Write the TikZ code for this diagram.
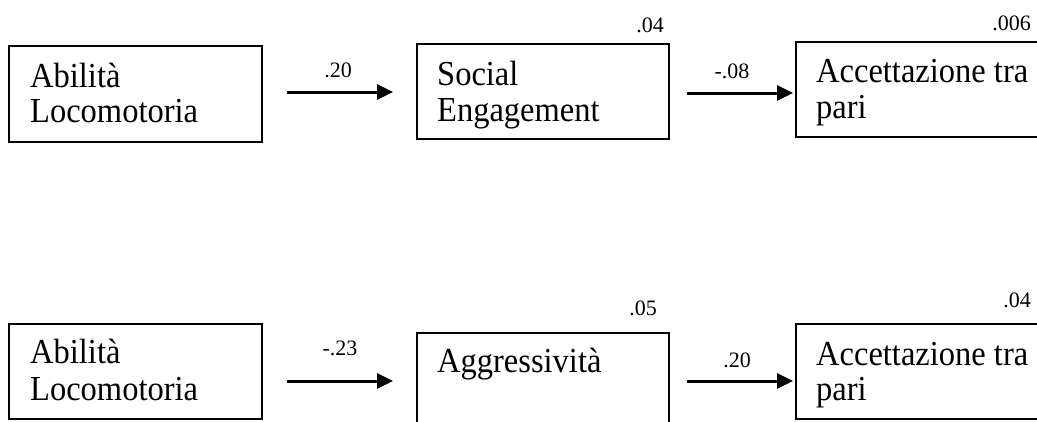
\documentclass[tikz,border=0pt]{standalone}
\usepackage{fontspec}
\setmainfont{Liberation Serif}
\usetikzlibrary{arrows.meta}
\newcommand{\tallt}[1]{\scalebox{1}[1.08]{#1}}
\tikzset{
  box/.style={draw=black, line width=2pt, rectangle, inner sep=0pt, outer sep=0pt},
  txt/.style={anchor=base west, inner sep=0pt, font=\fontsize{32.5}{36}\selectfont},
  coef/.style={anchor=base, inner sep=0pt, font=\fontsize{22}{26}\selectfont},
  rsq/.style={anchor=base east, inner sep=0pt, font=\fontsize{22}{26}\selectfont},
  arr/.style={line width=3pt, -{Triangle[length=16pt,width=15pt]}}
}
\begin{document}
\begin{tikzpicture}[x=1pt,y=-1pt]
\useasboundingbox (0,0) rectangle (1037,421);
\clip (0,0) rectangle (1037,421);
% top row boxes
\node[box, minimum width=253pt, minimum height=96pt] (b1) at (135.5,94) {};
\node[box, minimum width=252pt, minimum height=95pt] (b2) at (543,91.5) {};
\node[box, minimum width=249pt, minimum height=95pt] (b3) at (920.5,89.5) {};
% bottom row boxes
\node[box, minimum width=253pt, minimum height=95pt] (c1) at (135.5,371.5) {};
\node[box, minimum width=252pt, minimum height=107pt] (c2) at (543,386.5) {};
\node[box, minimum width=249pt, minimum height=95pt] (c3) at (920.5,371.5) {};
% texts top
\node[txt] (t1a) at (30,87) {\tallt{Abilità}};
\node[txt] (t1b) at (30,122) {\tallt{Locomotoria}};
\node[txt] (t2a) at (437,85) {\tallt{Social}};
\node[txt] (t2b) at (437,121) {\tallt{Engagement}};
\node[txt] (t3a) at (816,82) {\tallt{Accettazione tra}};
\node[txt] (t3b) at (816,118) {\tallt{pari}};
% texts bottom
\node[txt] (u1a) at (30,363) {\tallt{Abilità}};
\node[txt] (u1b) at (30,400) {\tallt{Locomotoria}};
\node[txt] (u2a) at (437,372) {\tallt{Aggressività}};
\node[txt] (u3a) at (816,365) {\tallt{Accettazione tra}};
\node[txt] (u3b) at (816,400) {\tallt{pari}};
% arrows
\coordinate (p1) at (287,92);
\coordinate (p2) at (393,92);
\coordinate (p3) at (687,93);
\coordinate (p4) at (793,93);
\coordinate (q1) at (287,381);
\coordinate (q2) at (393,381);
\coordinate (q3) at (687,381);
\coordinate (q4) at (793,381);
\draw[arr] (p1) -- (p2);
\draw[arr] (p3) -- (p4);
\draw[arr] (q1) -- (q2);
\draw[arr] (q3) -- (q4);
% coefficients
\node[coef] (k1) at (338,77) {.20};
\node[coef] (k2) at (732,78) {-.08};
\node[coef] (k3) at (340,355) {-.23};
\node[coef] (k4) at (737,367) {.20};
% r squared
\node[rsq] (r1) at (664,32) {.04};
\node[rsq] (r2) at (1031,30) {.006};
\node[rsq] (r3) at (657,315) {.05};
\node[rsq] (r4) at (1031,307) {.04};
\end{tikzpicture}
\end{document}
